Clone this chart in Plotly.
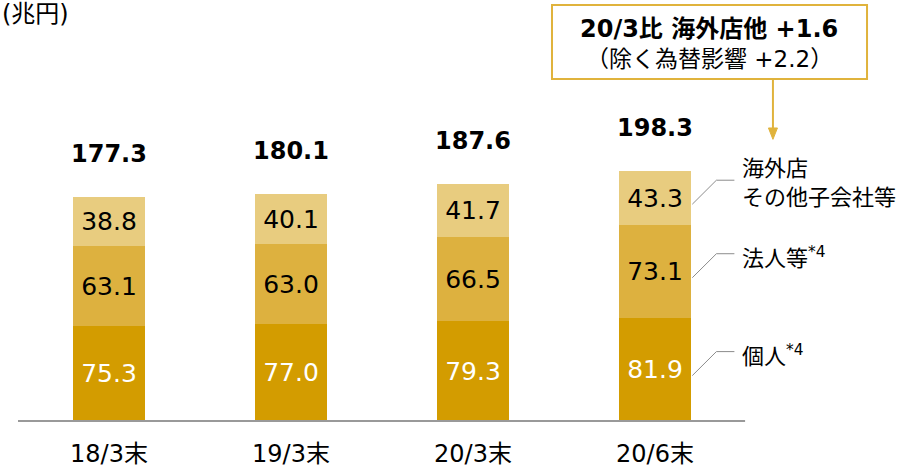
import plotly.graph_objects as go

# ---- data ----
categories = ["18/3末", "19/3末", "20/3末", "20/6末"]
individual = [75.3, 77.0, 79.3, 81.9]
corporate = [63.1, 63.0, 66.5, 73.1]
overseas = [38.8, 40.1, 41.7, 43.3]
totals = [177.3, 180.1, 187.6, 198.3]
series_labels = ["個人<sup>*4</sup>", "法人等<sup>*4</sup>", "海外店<br>その他子会社等"]
unit_label = "(兆円)"
note_line1 = "<b>20/3比 海外店他 +1.6</b>"
note_line2 = "（除く為替影響 +2.2）"

colors = ["#D39C00", "#DDB13F", "#E8CC7F"]
text_colors = ["#FFFFFF", "#000000", "#000000"]
FONT = "DejaVu Sans, Noto Sans CJK JP, sans-serif"
GOLD = "#E0B33C"

x = list(range(len(categories)))
series = [individual, corporate, overseas]

fig = go.Figure()
for vals, col, tcol in zip(series, colors, text_colors):
    fig.add_trace(go.Bar(
        x=x, y=vals, width=0.40,
        marker=dict(color=col, line=dict(width=0)),
        text=[f"{v:.1f}" for v in vals],
        textposition="inside", insidetextanchor="middle",
        textfont=dict(family=FONT, size=25, color=tcol),
        constraintext="none", hoverinfo="skip", showlegend=False,
    ))

ann = []
# totals
for xi, t in zip(x, totals):
    ann.append(dict(x=xi, y=t, xref="x", yref="y", text=f"<b>{t:.1f}</b>",
                    showarrow=False, yanchor="middle", yshift=43,
                    font=dict(family=FONT, size=24, color="#000")))

# series labels on the right with connector lines
last = len(x) - 1
bar_right = last + 0.20
bases = [0, individual[last], individual[last] + corporate[last]]
shapes = []
for base, vals, lab in zip(bases, series, series_labels):
    mid = base + vals[last] / 2
    y0 = mid - 5
    y1 = mid + 14
    xe = bar_right + 25 / 182
    xf = bar_right + 43 / 182
    shapes.append(dict(type="path", xref="x", yref="y",
                       path=f"M {bar_right + 0.005},{y0} L {xe},{y1} L {xf},{y1}",
                       line=dict(color="#8C8C8C", width=1)))
    ann.append(dict(x=bar_right + 49 / 182, y=y1, xref="x", yref="y", text=lab,
                    showarrow=False, xanchor="left", yanchor="middle", align="left",
                    yshift=-3,
                    font=dict(family=FONT, size=22, color="#000")))

# axis baseline
shapes.append(dict(type="line", xref="x", yref="y", x0=-0.5, x1=3.495, y0=0, y1=0,
                   line=dict(color="#999999", width=2)))

# note box
shapes.append(dict(type="rect", xref="x", yref="y", x0=2.434, x1=4.165, y0=270.8, y1=329.4,
                   line=dict(color=GOLD, width=2), fillcolor="white"))
ann.append(dict(x=3.297, y=310.4, xref="x", yref="y", text=note_line1, showarrow=False,
                xanchor="center", yanchor="middle",
                font=dict(family=FONT, size=24, color="#000")))
ann.append(dict(x=3.297, y=286.6, xref="x", yref="y", text=note_line2, showarrow=False,
                xanchor="center", yanchor="middle",
                font=dict(family=FONT, size=23, color="#000")))
# arrow (line + head)
ax_ = 3.648
shapes.append(dict(type="line", xref="x", yref="y", x0=ax_, x1=ax_, y0=270.8, y1=230,
                   line=dict(color=GOLD, width=2)))
shapes.append(dict(type="path", xref="x", yref="y",
                   path=f"M {ax_ - 4.5/182},{232} L {ax_ + 4.5/182},{232} L {ax_},{223} Z",
                   fillcolor=GOLD, line=dict(color=GOLD, width=1)))
# unit
ann.append(dict(x=-0.5989, y=333.3, xref="x", yref="y", text=unit_label, showarrow=False,
                xanchor="left", yanchor="top", yshift=2,
                font=dict(family=FONT, size=24, color="#000")))

fig.update_layout(
    width=901, height=469,
    margin=dict(l=0, r=0, t=0, b=46, autoexpand=False),
    paper_bgcolor="white", plot_bgcolor="white",
    barmode="stack", bargap=0,
    annotations=ann, shapes=shapes,
    xaxis=dict(range=[-109 / 182, (901 - 109) / 182], tickvals=x, ticktext=categories,
               showgrid=False, zeroline=False, showline=False, automargin=False,
               ticks="outside", ticklen=9, tickcolor="rgba(0,0,0,0)",
               tickfont=dict(family=FONT, size=24, color="#000"), fixedrange=True),
    yaxis=dict(range=[-2 / 1.263, 421 / 1.263], visible=False, fixedrange=True,
               automargin=False),
)

fig.write_html("out.html", config={"displayModeBar": False},
               post_script="document.body.style.margin='0';")
